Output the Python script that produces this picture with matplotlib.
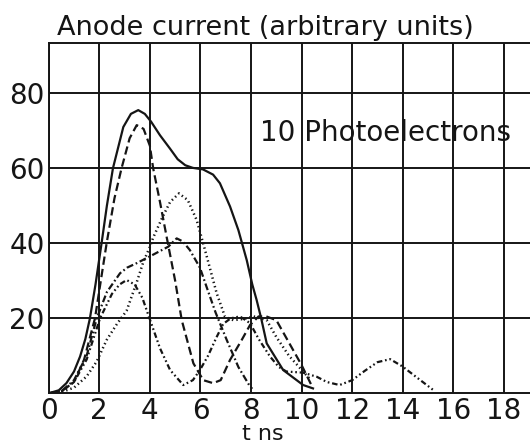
import matplotlib
matplotlib.use("Agg")
import matplotlib.pyplot as plt
import matplotlib.transforms as mtransforms

plt.rcParams['font.family'] = ['DejaVu Sans']
plt.rcParams['lines.scale_dashes'] = False

# ---- data ----
x_ticks = [0, 2, 4, 6, 8, 10, 12, 14, 16, 18]
y_ticks = [20, 40, 60, 80]

solid_t = [0, 0.4, 0.7, 1.0, 1.24, 1.45, 1.63, 1.85, 2.09, 2.3, 2.54, 2.95, 3.25, 3.54, 3.8, 4.05,
           4.4, 4.8, 5.1, 5.4, 5.7, 6.1, 6.5, 6.77, 7.17, 7.5, 7.83, 8.05, 8.22, 8.4, 8.62, 9.27,
           10.06, 10.45]
solid_y = [0, 0.8, 2.7, 5.8, 9.8, 14.5, 20, 29, 40, 50, 60, 71, 74.5, 75.5, 74.5, 72.4,
           68.8, 65.2, 62.4, 60.8, 60.1, 59.7, 58.3, 56, 49.8, 43.5, 35.5, 29, 24.9, 20, 13.3, 6.2,
           2.2, 1.3]

dashed_t = [0, 0.5, 1.0, 1.4, 1.83, 2.29, 2.6, 2.88, 3.2, 3.48, 3.75, 4.0, 4.13, 4.4, 4.66, 5.0,
            5.26, 5.72, 6.11, 6.5, 6.8, 7.17, 7.63, 7.96, 8.3, 8.6, 9.0, 9.5, 10.0, 10.4]
dashed_y = [0, 0.5, 3, 9, 20, 40, 52, 60, 68, 71.5, 70.5, 66, 60, 51, 41.8, 30,
            19.5, 8, 3.5, 2.7, 3.5, 8.9, 14.2, 18.2, 20.5, 20.5, 19.5, 13.5, 7.5, 2.0]

dotted_t = [0, 0.5, 1.0, 1.5, 1.9, 2.29, 2.7, 3.08, 3.5, 3.74, 4.0, 4.13, 4.5, 4.8, 5.15, 5.5,
            5.85, 6.18, 6.64, 6.97, 7.3, 7.7, 8.1, 8.62, 9.0, 9.5, 10.06, 10.3]
dotted_y = [0, 0.3, 1.5, 4.5, 8.5, 14.2, 18.5, 22, 30, 35, 39, 41.5, 47, 51, 53.3, 51.5,
            46.2, 38.2, 26.7, 20.4, 19.5, 19.8, 20.5, 19.5, 15, 10, 5.8, 4]

dashdot_t = [0, 0.5, 1.0, 1.5, 1.9, 2.3, 2.82, 3.1, 3.48, 4.0, 4.73, 5.06, 5.3, 5.58, 5.98,
             6.24, 6.6, 7.04, 7.5, 7.96, 8.05]
dashdot_y = [0, 0.5, 3.5, 10, 20, 27, 32, 33.5, 34.7, 36.5, 39.1, 41.3, 40.5, 38.2, 33.5,
             28.4, 21.5, 14.2, 7, 1.8, 1.2]

ddot_t = [0, 0.5, 1.0, 1.5, 2.03, 2.5, 2.8, 3.08, 3.4, 3.7, 4.0, 4.4, 4.8, 5.32, 5.7, 5.98,
          6.3, 6.64, 6.9, 7.2, 7.56, 7.96, 8.3, 8.75, 9.1, 9.4, 10.06, 10.6, 11.0, 11.5,
          12.0, 12.5, 13.0, 13.5, 14.0, 14.5, 15.2]
ddot_y = [0, 0.5, 3, 9, 20, 26.5, 29, 30.2, 29, 25.5, 19.7, 12, 6.2, 2.2, 3.5, 6.2,
          10, 15, 18.5, 20, 20.5, 18.7, 14.5, 9.8, 7, 5.8, 5.5, 4.4, 3.0, 2.2,
          3.5, 6.0, 8.3, 9.1, 7.1, 4.5, 0.9]

ink = '#151515'

fig = plt.figure(figsize=(5.30, 4.46), dpi=100)
ax = fig.add_axes([0.0919, 0.1182, 0.9081, 0.7854])

ax.plot(solid_t, solid_y, color=ink, lw=1.6, ls='-')
ax.plot(dashed_t, dashed_y, color=ink, lw=1.6, ls=(0, (6, 3)))
ax.plot(dotted_t, dotted_y, color=ink, lw=1.8, ls=(0, (1, 2.2)))
ax.plot(dashdot_t, dashdot_y, color=ink, lw=1.6, ls=(0, (5, 2, 1.2, 2)))
ax.plot(ddot_t, ddot_y, color=ink, lw=1.6, ls=(0, (4, 2, 1.2, 2, 1.2, 2)))

ax.set_xlim(0, 19.03)
ax.set_ylim(0, 93.4)
ax.set_xticks(x_ticks)
ax.set_yticks(y_ticks)
ax.set_xticklabels([str(v) for v in x_ticks], fontsize=20)
ax.set_yticklabels([str(v) for v in y_ticks], fontsize=20)
ax.tick_params(length=0, pad=3, colors=ink)
ax.grid(True, color=ink, lw=1.4)
ax.set_axisbelow(True)
for s in ['left', 'bottom', 'top']:
    ax.spines[s].set_color(ink)
    ax.spines[s].set_linewidth(1.4)
ax.spines['right'].set_visible(False)

fig.text(57 / 530, 1 - 35 / 446, 'Anode current (arbitrary units)', fontsize=19.5,
         color=ink, ha='left', va='baseline')
ax.text(8.35, 69.5, '10 Photoelectrons', fontsize=20, color=ink, ha='left', va='center')

trans = mtransforms.blended_transform_factory(ax.transData, fig.transFigure)
ax.text(8.45, 1 - 440 / 446, 't ns', fontsize=16, color=ink, ha='center',
        va='baseline', transform=trans)

fig.savefig('out.png', dpi=100)
